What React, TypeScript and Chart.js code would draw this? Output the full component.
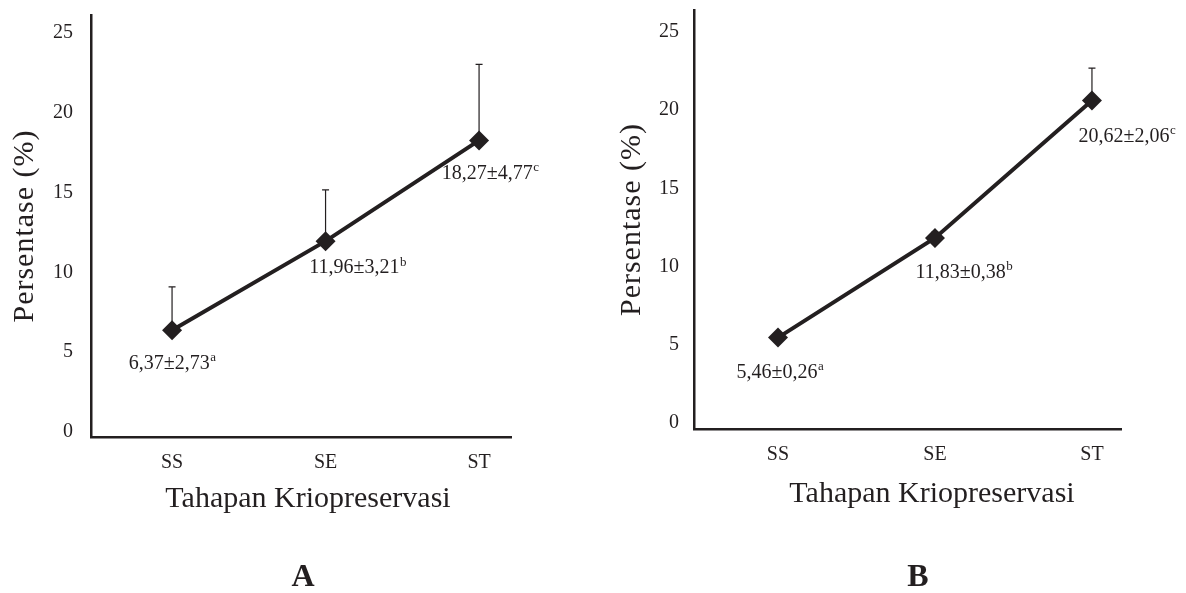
import React, { useEffect, useRef } from 'react';
import { Chart, registerables } from 'chart.js';

Chart.register(...registerables);

// ---- data ----
const categories = ['SS', 'SE', 'ST'];
const meansA = [6.37, 11.96, 18.27];
const errA = [2.73, 3.21, 4.77];
const meansB = [5.46, 11.83, 20.62];
const errB = [0.26, 0.38, 2.06];
const letters = ['a', 'b', 'c'];
const yTicks = [0, 5, 10, 15, 20, 25];
const xTitleText = 'Tahapan Kriopreservasi';
const yTitleText = 'Persentase (%)';
const panelNames = ['A', 'B'];

// ---- style ----
const INK = '#231f20';
const FONT = '"Liberation Serif", "Times New Roman", serif';
const fmt = (v: number) => v.toFixed(2).replace('.', ',');

type Cfg = {
  yWidth: number;
  top: number;
  right: number;
  xHeight: number;
  yMin: number;
  yMax: number;
  xMin: number;
  xMax: number;
  yTickPad: number;
  labelOffsets: number[][];
  yTitleX: number;
  xTitlePos: number[];
  letterPos: number[];
};

const cfgA: Cfg = {
  yWidth: 91,
  top: 15,
  right: 82,
  xHeight: 156,
  yMin: -0.313,
  yMax: 26.13,
  xMin: -0.528,
  xMax: 2.208,
  yTickPad: 18,
  labelOffsets: [[0, 33], [32, 27], [11, 33]],
  yTitleX: 25,
  xTitlePos: [308, 499],
  letterPos: [303, 578],
};

const cfgB: Cfg = {
  yWidth: 101,
  top: 10,
  right: 65,
  xHeight: 164,
  yMin: -0.384,
  yMax: 26.4,
  xMin: -0.535,
  xMax: 2.185,
  yTickPad: 15,
  labelOffsets: [[2, 35], [29, 35], [35, 36]],
  yTitleX: 39,
  xTitlePos: [339, 494],
  letterPos: [325, 578],
};

function Panel({ means, errs, cfg, name }: { means: number[]; errs: number[]; cfg: Cfg; name: string }) {
  const ref = useRef<HTMLCanvasElement | null>(null);

  useEffect(() => {
    if (!ref.current) return;
    const decor = {
      id: 'decor' + name,
      beforeDatasetsDraw(chart: any) {
        const ctx = chart.ctx;
        const xs = chart.scales.x;
        const ys = chart.scales.y;
        ctx.save();
        ctx.strokeStyle = INK;
        ctx.lineWidth = 1.2;
        means.forEach((m, i) => {
          const px = xs.getPixelForValue(i);
          const py0 = ys.getPixelForValue(m);
          const py1 = ys.getPixelForValue(m + errs[i]);
          ctx.beginPath();
          ctx.moveTo(px, py0);
          ctx.lineTo(px, py1);
          ctx.moveTo(px - 3.5, py1);
          ctx.lineTo(px + 3.5, py1);
          ctx.stroke();
        });
        ctx.restore();
      },
      afterDraw(chart: any) {
        const ctx = chart.ctx;
        const xs = chart.scales.x;
        const ys = chart.scales.y;
        const area = chart.chartArea;
        ctx.save();
        ctx.fillStyle = INK;
        // value labels
        means.forEach((m, i) => {
          const px = xs.getPixelForValue(i) + cfg.labelOffsets[i][0];
          const py = ys.getPixelForValue(m) + cfg.labelOffsets[i][1];
          const main = `${fmt(m)}±${fmt(errs[i])}`;
          ctx.font = `20px ${FONT}`;
          const w1 = ctx.measureText(main).width;
          ctx.font = `13px ${FONT}`;
          const w2 = ctx.measureText(letters[i]).width;
          const x0 = px - (w1 + w2) / 2;
          ctx.textBaseline = 'middle';
          ctx.textAlign = 'left';
          ctx.font = `20px ${FONT}`;
          ctx.fillText(main, x0, py);
          ctx.font = `13px ${FONT}`;
          ctx.fillText(letters[i], x0 + w1 + 0.5, py - 6);
        });
        ctx.textAlign = 'center';
        ctx.textBaseline = 'middle';
        // y title
        ctx.save();
        ctx.font = `30px ${FONT}`;
        (ctx as any).letterSpacing = '1px';
        ctx.translate(cfg.yTitleX, (area.top + area.bottom) / 2);
        ctx.rotate(-Math.PI / 2);
        ctx.fillText(yTitleText, 0, 0);
        ctx.restore();
        // x title
        ctx.font = `30px ${FONT}`;
        ctx.fillText(xTitleText, cfg.xTitlePos[0], cfg.xTitlePos[1]);
        // panel letter
        ctx.font = `bold 32px ${FONT}`;
        ctx.fillText(name, cfg.letterPos[0], cfg.letterPos[1]);
        ctx.restore();
      },
    };

    const chart = new Chart(ref.current, {
      type: 'line',
      data: {
        datasets: [
          {
            data: means.map((m, i) => ({ x: i, y: m })),
            borderColor: INK,
            borderWidth: 4,
            backgroundColor: INK,
            pointStyle: 'rectRot',
            pointRadius: 10,
            pointBackgroundColor: INK,
            pointBorderColor: INK,
            pointBorderWidth: 0,
            tension: 0,
          },
        ],
      },
      options: {
        animation: false,
        responsive: false,
        layout: { padding: { left: 0, top: cfg.top, right: cfg.right, bottom: 0 } },
        plugins: { legend: { display: false }, tooltip: { enabled: false }, title: { display: false } },
        scales: {
          x: {
            type: 'linear',
            min: cfg.xMin,
            max: cfg.xMax,
            afterBuildTicks: (s: any) => {
              s.ticks = categories.map((_, i) => ({ value: i }));
            },
            afterFit: (s: any) => {
              s.height = cfg.xHeight;
              s.paddingLeft = 0;
              s.paddingRight = 0;
              s.paddingTop = 0;
              s.paddingBottom = 0;
            },
            grid: { display: false, drawTicks: false },
            border: { display: true, color: INK, width: 2.5 },
            ticks: {
              padding: 14,
              color: INK,
              font: { family: FONT, size: 20 },
              maxRotation: 0,
              callback: (v: any) => categories[Math.round(Number(v))] ?? '',
            },
          },
          y: {
            type: 'linear',
            min: cfg.yMin,
            max: cfg.yMax,
            afterBuildTicks: (s: any) => {
              s.ticks = yTicks.map((v) => ({ value: v }));
            },
            afterFit: (s: any) => {
              s.width = cfg.yWidth;
              s.paddingTop = 0;
              s.paddingBottom = 0;
              s.paddingLeft = 0;
              s.paddingRight = 0;
            },
            grid: { display: false, drawTicks: false },
            border: { display: true, color: INK, width: 2.5 },
            ticks: {
              padding: cfg.yTickPad,
              color: INK,
              font: { family: FONT, size: 20 },
              callback: (v: any) => String(v),
            },
          },
        },
      } as any,
      plugins: [decor],
    });
    return () => chart.destroy();
  }, []);

  return <canvas ref={ref} width={593} height={593} style={{ display: 'block', width: 593, height: 593 }} />;
}

export default function App() {
  return (
    <div
      style={{
        position: 'fixed',
        left: 0,
        top: 0,
        width: 1186,
        height: 593,
        background: '#ffffff',
        display: 'flex',
      }}
    >
      <Panel means={meansA} errs={errA} cfg={cfgA} name={panelNames[0]} />
      <Panel means={meansB} errs={errB} cfg={cfgB} name={panelNames[1]} />
    </div>
  );
}
